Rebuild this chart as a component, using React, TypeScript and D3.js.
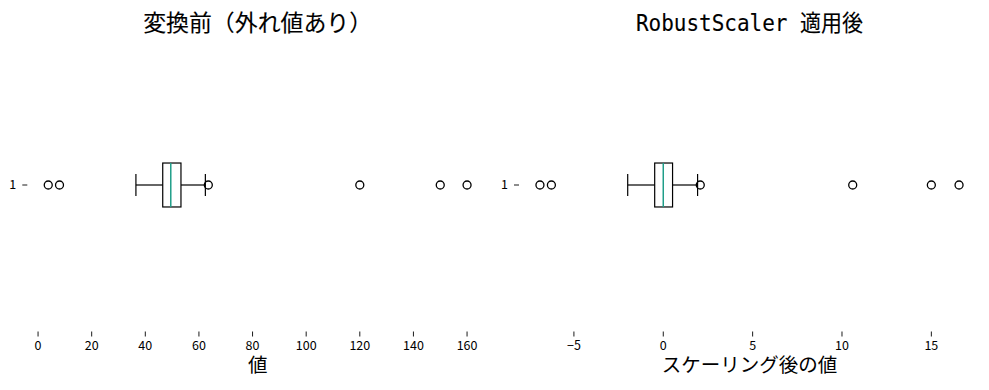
import React from "react";
import * as d3 from "d3";

// Box statistics: [whiskerLow, q1, median, q3, whiskerHigh]
const beforeStats = [36.5, 46.5, 49.5, 53.3, 62.4];
const beforeFliers = [3.8, 8.0, 63.5, 120, 150, 160];
const afterStats = [-1.99, -0.48, 0.0, 0.52, 1.92];
const afterFliers = [-6.9, -6.26, 2.07, 10.6, 15.0, 16.55];

const beforeTicks = [0, 20, 40, 60, 80, 100, 120, 140, 160];
const afterTicks = [-5, 0, 5, 10, 15];
const yTickLabels = ["1"];

const titles = ["変換前（外れ値あり）", "RobustScaler 適用後"];
const xLabels = ["値", "スケーリング後の値"];

const FONT = "'Noto Sans CJK JP', 'Noto Sans', sans-serif";
const TITLE_FONT = "'DejaVu Sans Mono', 'Noto Sans CJK JP', monospace";
const MEDIAN_COLOR = "#1f9e89";

type PanelProps = {
  x0: number;
  x1: number;
  top: number;
  bottom: number;
  stats: number[];
  fliers: number[];
  ticks: number[];
  title: string;
  titleLen: number;
  xLabel: string;
};

function Panel({ x0, x1, top, bottom, stats, fliers, ticks, title, titleLen, xLabel }: PanelProps) {
  const all = [...stats, ...fliers];
  const lo = d3.min(all) as number;
  const hi = d3.max(all) as number;
  const pad = (hi - lo) * 0.05;
  const x = d3.scaleLinear().domain([lo - pad, hi + pad]).range([x0, x1]);
  const y = d3.scaleLinear().domain([0.5, 1.5]).range([bottom, top]);
  const boxW = 0.15;
  const yc = y(1);
  const bh = Math.abs(y(1 + boxW / 2) - y(1 - boxW / 2));
  const [wl, q1, med, q3, wh] = stats;
  const fmt = (v: number) => (v < 0 ? "\u2212" + Math.abs(v) : String(v));
  return (
    <g>
      <text
        x={(x0 + x1) / 2}
        y={top - 8}
        textAnchor="middle"
        fontFamily={TITLE_FONT}
        fontSize={22.5}
        fill="#000"
        stroke="#000"
        strokeWidth={0.12}
        textLength={titleLen}
        lengthAdjust="spacingAndGlyphs"
      >
        {title}
      </text>
      {/* y tick */}
      {yTickLabels.map((t, i) => (
        <g key={i}>
          <line x1={x0 - 5} x2={x0} y1={yc} y2={yc} stroke="#000" strokeWidth={0.9} />
          <text x={x0 - 11} y={yc} dy="0.35em" textAnchor="end" fontFamily={FONT} fontSize={12.5}>
            {t}
          </text>
        </g>
      ))}
      {/* x ticks */}
      {ticks.map((t) => (
        <g key={t}>
          <line x1={x(t)} x2={x(t)} y1={bottom} y2={bottom + 5} stroke="#000" strokeWidth={0.9} />
          <text
            x={x(t)}
            y={bottom + 14.5}
            dy="0.35em"
            textAnchor="middle"
            fontFamily={FONT}
            fontSize={12.5}
            fill="#000"
          >
            {fmt(t)}
          </text>
        </g>
      ))}
      <text
        x={(x0 + x1) / 2}
        y={bottom + 34}
        dy="0.35em"
        textAnchor="middle"
        fontFamily={FONT}
        fontSize={19.5}
        fill="#000"
      >
        {xLabel}
      </text>
      {/* whiskers */}
      <line x1={x(wl)} x2={x(q1)} y1={yc} y2={yc} stroke="#000" strokeWidth={1.2} />
      <line x1={x(q3)} x2={x(wh)} y1={yc} y2={yc} stroke="#000" strokeWidth={1.2} />
      <line x1={x(wl)} x2={x(wl)} y1={yc - bh / 4} y2={yc + bh / 4} stroke="#000" strokeWidth={1.2} />
      <line x1={x(wh)} x2={x(wh)} y1={yc - bh / 4} y2={yc + bh / 4} stroke="#000" strokeWidth={1.2} />
      {/* box */}
      <rect
        x={x(q1)}
        y={yc - bh / 2}
        width={x(q3) - x(q1)}
        height={bh}
        fill="none"
        stroke="#000"
        strokeWidth={1.2}
      />
      <line x1={x(med)} x2={x(med)} y1={yc - bh / 2} y2={yc + bh / 2} stroke={MEDIAN_COLOR} strokeWidth={1.5} />
      {/* fliers */}
      {fliers.map((f, i) => (
        <circle key={i} cx={x(f)} cy={yc} r={4} fill="none" stroke="#000" strokeWidth={1.3} />
      ))}
    </g>
  );
}

export default function App() {
  const W = 989;
  const H = 390;
  return (
    <svg
      width={W}
      height={H}
      style={{ position: "absolute", left: 0, top: 0, background: "#fff" }}
    >
      <rect width={W} height={H} fill="#fff" />
      <Panel
        x0={27.3}
        x1={488}
        top={38.5}
        bottom={331.5}
        stats={beforeStats}
        fliers={beforeFliers}
        ticks={beforeTicks}
        title={titles[0]}
        titleLen={229}
        xLabel={xLabels[0]}
      />
      <Panel
        x0={519}
        x1={980}
        top={38.5}
        bottom={331.5}
        stats={afterStats}
        fliers={afterFliers}
        ticks={afterTicks}
        title={titles[1]}
        titleLen={227}
        xLabel={xLabels[1]}
      />
    </svg>
  );
}
